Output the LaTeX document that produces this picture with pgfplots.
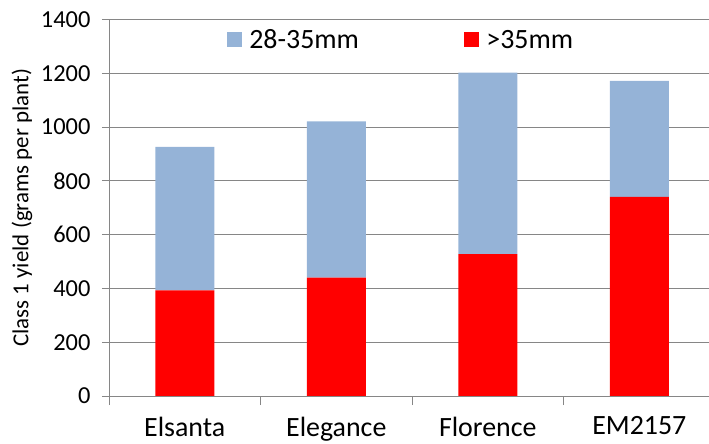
\documentclass[border=0pt]{standalone}
\usepackage{fontspec}
\setmainfont{Carlito}
\usepackage{pgfplots}
\pgfplotsset{compat=1.18}
\definecolor{cblue}{RGB}{149,179,215}
\definecolor{cred}{RGB}{255,0,0}
\definecolor{cgrid}{RGB}{134,134,134}
\begin{document}
\begin{tikzpicture}
\useasboundingbox (0,0) rectangle (709bp,444bp);
\begin{axis}[
  at={(109bp,48bp)}, anchor=south west,
  width=600bp, height=376.5bp, scale only axis,
  ybar stacked, bar width=59bp,
  xmin=-0.5, xmax=3.46, ymin=0, ymax=1400,
  ytick={0,200,...,1400},
  xtick={0,1,2,3}, xticklabels={Elsanta,Elegance,Florence,EM2157},
  minor xtick={-0.5,0.5,1.5,2.5},
  axis x line*=bottom, axis y line*=left,
  axis line style={cgrid, line width=1bp},
  ymajorgrids, grid style={cgrid, line width=1bp},
  tick align=outside,
  major tick length=7bp, minor tick length=9bp,
  every major x tick/.append style={draw=none},
  every tick/.append style={cgrid, line width=1bp},
  every minor tick/.append style={cgrid, line width=1bp},
  /pgf/number format/assume math mode=true,
  /pgf/number format/1000 sep={},
  yticklabel style={font=\fontsize{24.5}{28}\selectfont, text=black, xshift=-8bp},
  xticklabel style={font=\fontsize{28}{32}\selectfont, text=black, inner sep=0pt, anchor=north, yshift=-13.5bp},
  ylabel={Class 1 yield (grams per plant)},
  every axis y label/.style={at={(axis description cs:-0.145,0.5)}, anchor=center, rotate=90, font=\fontsize{23}{27}\selectfont},
  reverse legend,
  legend columns=2,
  legend image code/.code={\fill[#1] (0bp,-7.5bp) rectangle (15.5bp,8bp);},
  legend style={at={(0.485,0.9456)}, anchor=center, draw=none, fill=none,
    font=\fontsize{28}{32}\selectfont, nodes={inner sep=0pt},
    /tikz/column 1/.style={column sep=7bp},
    /tikz/column 2/.style={column sep=105bp},
    /tikz/column 3/.style={column sep=7bp}},
]
\addplot[fill=cred, draw=none] coordinates {(0,393) (1,440) (2,528) (3,740)};
\addlegendentry{>35mm}
\addplot[fill=cblue, draw=none] coordinates {(0,533) (1,581) (2,674) (3,432)};
\addlegendentry{28-35mm}
\end{axis}
\end{tikzpicture}
\end{document}
